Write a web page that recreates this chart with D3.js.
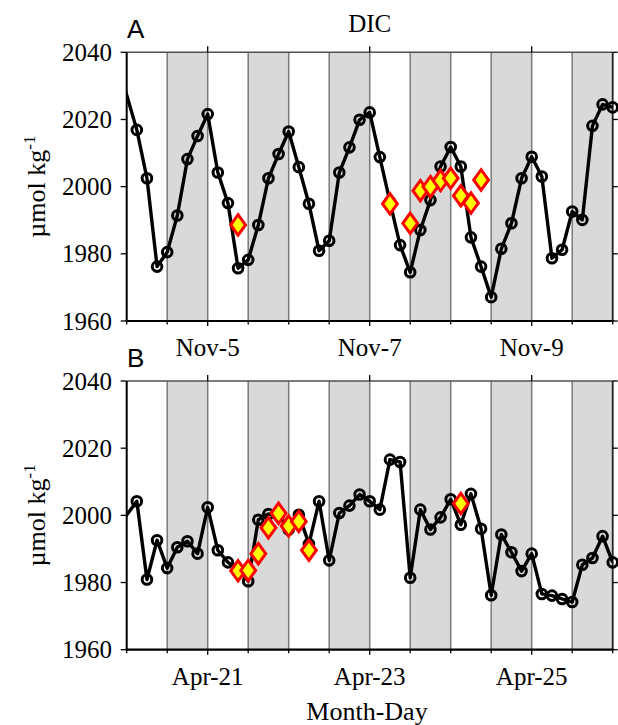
<!DOCTYPE html>
<html>
<head>
<meta charset="utf-8">
<script src="https://cdn.jsdelivr.net/npm/d3@7"></script>
<style>
  body { margin: 0; background: #fff; }
</style>
</head>
<body>
<div id="chart"></div>
<script>
// hours since local midnight of the first day, 3-hourly casts
const hoursA = [-3, 3, 6, 9, 12, 15, 18, 21, 24, 27, 30, 33, 36, 39, 42, 45, 48, 51, 54, 57, 60, 63, 66, 69, 72,
  75, 78, 81, 84, 87, 90, 93, 96, 99, 102, 105, 108, 111, 114, 117, 120, 123, 126, 129, 132, 135, 138, 141, 144]
const dicA = [2037.7, 2016.9, 2002.5, 1976.2, 1980.5, 1991.4, 2008.2, 2015.1, 2021.6, 2004.2, 1995.1, 1975.7, 1978.2,
  1988.6, 2002.5, 2009.7, 2016.4, 2005.8, 1994.9, 1980.9, 1983.9, 2004.2, 2011.7, 2019.9, 2022.1,
  2008.8, 1995.5, 1982.6, 1974.5, 1987.1, 1996.0, 2006.0, 2011.8, 2006.0, 1984.9, 1976.2, 1967.1, 1981.5, 1989.1,
  2002.5, 2008.9, 2003.0, 1978.7, 1981.2, 1992.6, 1990.1, 2018.1, 2024.5, 2023.6]
const hoursB = [-3, 3, 6, 9, 12, 15, 18, 21, 24, 27, 30, 33, 36, 39, 42, 45, 48, 51, 54, 57, 60, 63, 66, 69, 72,
  75, 78, 81, 84, 87, 90, 93, 96, 99, 102, 105, 108, 111, 114, 117, 120, 123, 126, 129, 132, 135, 138, 141, 144]
const dicB = [1996.0, 2004.2, 1980.9, 1992.6, 1984.3, 1990.5, 1992.3, 1988.6, 2002.4, 1989.6, 1986.0, 1984.0, 1980.4,
  1998.7, 2000.4, 2000.0, 1995.8, 2000.2, 1991.5, 2004.2, 1986.6, 2000.7, 2002.9, 2006.2, 2004.2,
  2001.7, 2016.6, 2015.9, 1981.4, 2001.7, 1995.8, 1999.4, 2004.8, 1997.2, 2006.4, 1996.0, 1976.2, 1994.3, 1989.0,
  1983.4, 1988.6, 1976.6, 1976.1, 1975.1, 1974.2, 1985.3, 1987.3, 1993.8, 1986.0]

// discrete samples (diamonds)
const sampleHoursA = [33, 78, 84, 87, 90, 93, 96, 99, 102, 105]
const sampleA = [1988.6, 1994.9, 1989.1, 1998.8, 2000.0, 2001.8, 2002.5, 1997.3, 1995.1, 2002.0]
const sampleHoursB = [33, 36, 39, 42, 45, 48, 51, 54, 99]
const sampleB = [1983.5, 1983.6, 1988.6, 1996.3, 2000.6, 1996.8, 1998.2, 1989.6, 2003.5]

const yTicks = [1960, 1980, 2000, 2020, 2040]
const dayTicks = [24, 72, 120]
const dayLabelsA = ["Nov-5", "Nov-7", "Nov-9"]
const dayLabelsB = ["Apr-21", "Apr-23", "Apr-25"]
const nightStarts = [12, 36, 60, 84, 108, 132]
const gridHours = [12, 24, 36, 48, 60, 72, 84, 96, 108, 120, 132]
const halfDays = [0, 12, 24, 36, 48, 60, 72, 84, 96, 108, 120, 132, 144]

const serif = "'Liberation Serif', 'DejaVu Serif', serif"
const sans = "'Liberation Sans', Arial, sans-serif"

const width = 618, height = 725
const left = 126.7, right = 612.7, panelH = 268.7

const svg = d3.select("#chart").append("svg")
  .attr("width", width)
  .attr("height", height)
  .attr("font-family", serif)

const x = d3.scaleLinear().domain([0, 144]).range([left, right])

const drawPanel = (top, hours, vals, sHours, sVals, label, dayLabels, id) => {
  const y = d3.scaleLinear().domain([1960, 2040]).range([top + panelH, top])
  const g = svg.append("g")

  // night shading + half-day grid
  g.selectAll("rect.night").data(nightStarts).join("rect")
    .attr("x", d => x(d)).attr("y", top)
    .attr("width", d => x(d + 12) - x(d)).attr("height", panelH)
    .attr("fill", "#d9d9d9")
  g.selectAll("line.grid").data(gridHours).join("line")
    .attr("x1", d => x(d)).attr("x2", d => x(d))
    .attr("y1", top).attr("y2", top + panelH)
    .attr("stroke", "#7a7a7a").attr("stroke-width", 1.5)

  // frame
  g.append("line").attr("x1", left).attr("x2", right).attr("y1", top).attr("y2", top)
    .attr("stroke", "#505050").attr("stroke-width", 1.5)
  g.append("line").attr("x1", right).attr("x2", right).attr("y1", top).attr("y2", top + panelH)
    .attr("stroke", "#222").attr("stroke-width", 1.8)
  g.append("line").attr("x1", left).attr("x2", left).attr("y1", top).attr("y2", top + panelH)
    .attr("stroke", "#000").attr("stroke-width", 2)
  g.append("line").attr("x1", left - 1).attr("x2", right + 1).attr("y1", top + panelH).attr("y2", top + panelH)
    .attr("stroke", "#000").attr("stroke-width", 2.2)

  // y ticks both sides
  g.selectAll("line.yl").data(yTicks).join("line")
    .attr("x1", left - 6).attr("x2", left).attr("y1", d => y(d)).attr("y2", d => y(d))
    .attr("stroke", "#000").attr("stroke-width", 1.3)
  g.selectAll("line.yr").data(yTicks).join("line")
    .attr("x1", right).attr("x2", right + 5).attr("y1", d => y(d)).attr("y2", d => y(d))
    .attr("stroke", "#000").attr("stroke-width", 1.3)
  g.selectAll("text.yt").data(yTicks).join("text")
    .attr("x", 112).attr("y", d => y(d) + 8.5)
    .attr("text-anchor", "end").attr("font-size", 25)
    .text(d => d)

  // x ticks
  g.selectAll("line.xm").data(halfDays).join("line")
    .attr("x1", d => x(d)).attr("x2", d => x(d))
    .attr("y1", top + panelH).attr("y2", d => top + panelH + (dayTicks.includes(d) ? 5 : 3.5))
    .attr("stroke", "#000").attr("stroke-width", 1.3)
  g.selectAll("line.xt").data(dayTicks).join("line")
    .attr("x1", d => x(d)).attr("x2", d => x(d))
    .attr("y1", top - 6).attr("y2", top)
    .attr("stroke", "#000").attr("stroke-width", 1.3)
  g.selectAll("text.xl").data(dayTicks).join("text")
    .attr("x", d => x(d)).attr("y", top + panelH + 35)
    .attr("text-anchor", "middle").attr("font-size", 25)
    .text((d, i) => dayLabels[i])

  // y title
  const yt = g.append("text")
    .attr("transform", `translate(45,${top + panelH / 2}) rotate(-90)`)
    .attr("text-anchor", "middle").attr("font-size", 26)
  yt.append("tspan").text("\u00b5mol kg")
  yt.append("tspan").attr("dy", -10).attr("font-size", 17).text("-1")

  g.append("text")
    .attr("font-family", sans)
    .attr("x", 127).attr("y", top - 14)
    .attr("font-size", 26).text(label)

  // series
  svg.append("clipPath").attr("id", id)
    .append("rect").attr("x", left).attr("y", top).attr("width", right - left).attr("height", panelH)

  const pts = hours.map((h, i) => ({h, v: vals[i]}))
  const line = d3.line().x(d => x(d.h)).y(d => y(d.v))
  g.append("path").datum(pts)
    .attr("clip-path", `url(#${id})`)
    .attr("d", line)
    .attr("fill", "none").attr("stroke", "#000").attr("stroke-width", 3.4)
    .attr("stroke-linejoin", "round")

  g.selectAll("circle.obs").data(pts.filter(d => d.h >= 0)).join("circle")
    .attr("cx", d => x(d.h)).attr("cy", d => y(d.v)).attr("r", 4.8)
    .attr("fill", "none").attr("stroke", "#000").attr("stroke-width", 3)

  const samples = sHours.map((h, i) => ({h, v: sVals[i]}))
  g.selectAll("path.samp").data(samples).join("path")
    .attr("d", d => {
      const cx = x(d.h), cy = y(d.v), w = 7.4, hh = 10.2
      return `M${cx},${cy - hh}L${cx + w},${cy}L${cx},${cy + hh}L${cx - w},${cy}Z`
    })
    .attr("fill", "#ffff00").attr("stroke", "#ff0000").attr("stroke-width", 3)
    .attr("stroke-linejoin", "miter")
}

drawPanel(52.3, hoursA, dicA, sampleHoursA, sampleA, "A", dayLabelsA, "clipA")
drawPanel(381, hoursB, dicB, sampleHoursB, sampleB, "B", dayLabelsB, "clipB")

svg.append("text")
  .attr("x", (left + right) / 2).attr("y", 32)
  .attr("text-anchor", "middle").attr("font-size", 25)
  .text("DIC")

svg.append("text")
  .attr("x", 367).attr("y", 720)
  .attr("text-anchor", "middle").attr("font-size", 26)
  .text("Month-Day")
</script>
</body>
</html>
